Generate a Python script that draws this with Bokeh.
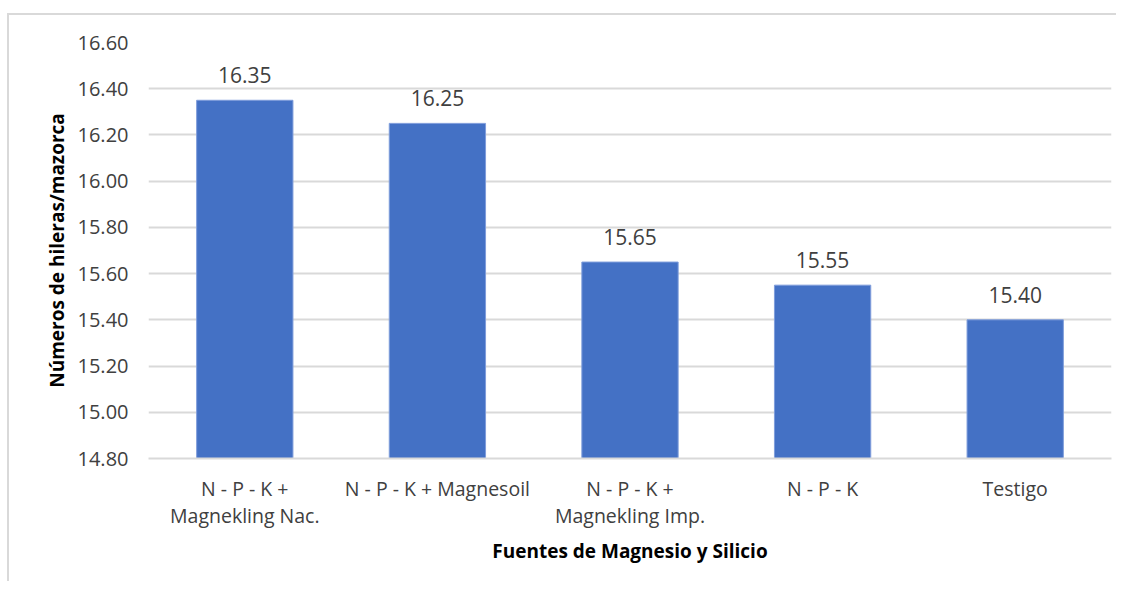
from bokeh.plotting import figure
from bokeh.models import ColumnDataSource, LabelSet, Range1d, SingleIntervalTicker, CustomJSTickFormatter
from bokeh.core.properties import value
from bokeh.embed import file_html
from bokeh.resources import INLINE

categories = ["N - P - K +\nMagnekling Nac.", "N - P - K + Magnesoil",
              "N - P - K +\nMagnekling Imp.", "N - P - K", "Testigo"]
values = [16.35, 16.25, 15.65, 15.55, 15.40]
value_labels = ["16.35", "16.25", "15.65", "15.55", "15.40"]

src = ColumnDataSource(dict(cat=categories, val=values, lab=value_labels))

FONT = "Open Sans"

p = figure(x_range=categories, y_range=Range1d(14.80, 16.60),
           width=1116, height=581, output_backend="svg", toolbar_location=None,
           min_border_left=148, min_border_right=5, min_border_top=42, min_border_bottom=123)
p.border_fill_color = None
p.background_fill_color = "white"
p.styles = {"background": "linear-gradient(#d9d9d9,#d9d9d9) 7px 13px / 100% 2px no-repeat, "
                          "linear-gradient(#d9d9d9,#d9d9d9) 7px 13px / 2px 100% no-repeat, white"}
p.outline_line_color = None

p.vbar(x="cat", top="val", bottom=14.80, width=0.5, source=src,
       fill_color="#4471c5", line_color="#7f9ddb", line_width=1)

labels = LabelSet(x="cat", y="val", text="lab", source=src, text_align="center",
                  text_baseline="bottom", y_offset=17, text_font=value(FONT),
                  text_font_size="21px", text_color="#404040")
p.add_layout(labels)

p.yaxis.ticker = SingleIntervalTicker(interval=0.2)
p.yaxis.formatter = CustomJSTickFormatter(code="return tick.toFixed(2);")
p.yaxis.axis_line_color = None
p.yaxis.major_tick_line_color = None
p.yaxis.minor_tick_line_color = None
p.yaxis.major_label_text_font = FONT
p.yaxis.major_label_text_font_size = "20px"
p.yaxis.major_label_text_color = "#404040"
p.yaxis.major_label_standoff = 14
p.yaxis.axis_label = "Números de hileras/mazorca"
p.yaxis.axis_label_text_font = FONT
p.yaxis.axis_label_text_font_style = "bold"
p.yaxis.axis_label_text_font_size = "19px"
p.yaxis.axis_label_text_color = "#000000"
p.yaxis.axis_label_standoff = 5

p.xaxis.axis_line_color = "#d9d9d9"
p.xaxis.axis_line_width = 2
p.xaxis.major_tick_line_color = None
p.xaxis.minor_tick_line_color = None
p.xaxis.major_label_text_font = FONT
p.xaxis.major_label_text_font_size = "19.5px"
p.xaxis.major_label_text_color = "#404040"
p.xaxis.major_label_text_line_height = 1.0
p.xaxis.major_label_standoff = 10
p.xaxis.axis_label = "Fuentes de Magnesio y Silicio"
p.xaxis.axis_label_text_font = FONT
p.xaxis.axis_label_text_font_style = "bold"
p.xaxis.axis_label_text_font_size = "19px"
p.xaxis.axis_label_text_color = "#000000"
p.xaxis.axis_label_standoff = 6

p.xgrid.grid_line_color = None
p.ygrid.grid_line_color = "#d9d9d9"
p.ygrid.grid_line_width = 2

open("out.html", "w").write(file_html(p, INLINE))
